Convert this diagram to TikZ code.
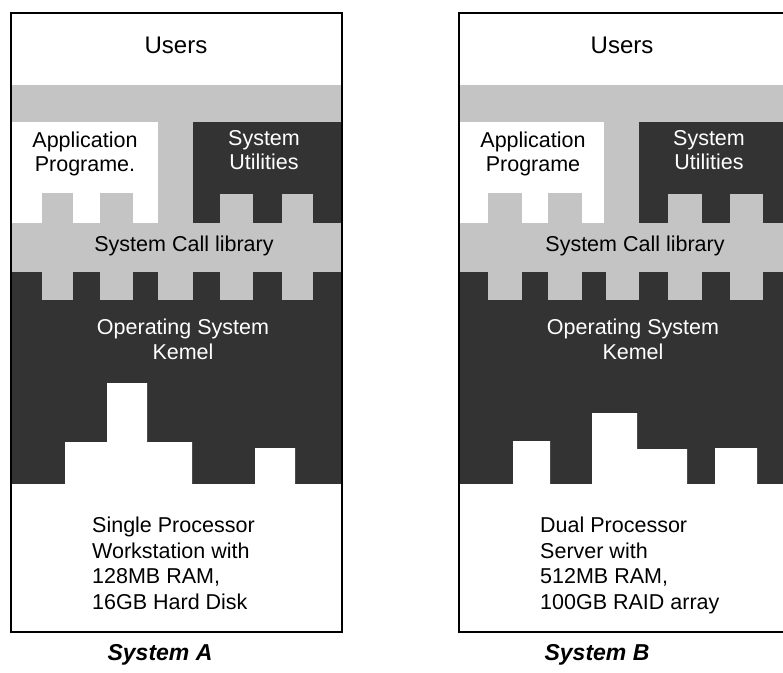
\documentclass[tikz,border=0pt]{standalone}
\usepackage{fontspec}
\setmainfont{Liberation Sans}
\usepackage{tikz}
\usetikzlibrary{positioning}
\definecolor{callgray}{HTML}{C4C4C4}
\definecolor{kerneldark}{HTML}{333333}

\begin{document}
\begin{tikzpicture}[x=1pt, y=-1pt,
  layertxt/.style={font=\fontsize{21.5}{24}\selectfont, inner sep=0pt, align=center},
  darktxt/.style={layertxt, text=white},
  hwtxt/.style={font=\fontsize{21.5}{25.5}\selectfont, inner sep=0pt, align=left, anchor=north west},
  titletxt/.style={font=\fontsize{23}{26}\selectfont\bfseries\itshape, inner sep=0pt},
  frame/.style={draw=black, line width=1.8pt}]
\useasboundingbox (0,0) rectangle (783,672);
\clip (0,0) rectangle (783,672);
\fill[white] (0,0) rectangle (783,672);

% --- System A (left) ---
\begin{scope}[shift={(11,0)}]
  % Call library band
  \fill[callgray] (0,85) rectangle (331,300);

  % Application box with legs
  \fill[white] (0,122) rectangle (147,223);
  \foreach \a/\b in {31/62, 89/122}
    \fill[callgray] (\a,193) rectangle (\b,224);

  % System utilities box with legs
  \fill[kerneldark] (182,122) rectangle (331,223);
  \foreach \a/\b in {209/242, 271/302}
    \fill[callgray] (\a,194) rectangle (\b,224);

  % Kernel with teeth from the call library
  \fill[kerneldark] (0,272) rectangle (331,500);
  \foreach \a/\b in {31/62, 89/122, 147/182, 209/242, 271/302}
    \fill[callgray] (\a,271) rectangle (\b,300);

  % Hardware
  \fill[white] (0,484) -- (54,484) -- (54,442) -- (96,442) -- (96,383) -- (136,383)
    -- (136,442) -- (181,442) -- (181,484) -- (244,484) -- (244,448) -- (284,448)
    -- (284,484) -- (331,484) -- (331,632) -- (0,632) -- cycle;

  \draw[frame] (0,13) rectangle (331,632);

  \node[layertxt, font=\fontsize{24}{26}\selectfont] (usersA) at (165,45) {Users};
  \node[layertxt] (appA) at (74,154) {Application\\Programe.};
  \node[darktxt] (utilA) at (253,150) {System\\Utilities};
  \node[layertxt] (callA) at (173,246) {System Call library};
  \node[darktxt, font=\fontsize{21.5}{25}\selectfont] (kernelA) at (172,339) {Operating System\\Kemel};
  \node[hwtxt] (hwA) at (81,517) {Single Processor\\Workstation with\\128MB RAM,\\16GB Hard Disk};
  \node[titletxt] (titleA) at (149,655) {System A};
\end{scope}

% --- System B (right) ---
\begin{scope}[shift={(459,0)}]
  % Call library band
  \fill[callgray] (0,85) rectangle (331,300);

  % Application box with legs
  \fill[white] (0,122) rectangle (145,223);
  \foreach \a/\b in {29/63, 89/123}
    \fill[callgray] (\a,193) rectangle (\b,224);

  % System utilities box with legs
  \fill[kerneldark] (180,122) rectangle (331,223);
  \foreach \a/\b in {209/243, 271/304}
    \fill[callgray] (\a,194) rectangle (\b,224);

  % Kernel with teeth from the call library
  \fill[kerneldark] (0,272) rectangle (331,500);
  \foreach \a/\b in {29/63, 89/123, 147/180, 209/243, 271/304}
    \fill[callgray] (\a,271) rectangle (\b,300);

  % Hardware
  \fill[white] (0,484) -- (54,484) -- (54,441) -- (91,441) -- (91,484) -- (133,484)
    -- (133,413) -- (178,413) -- (178,449) -- (228,449) -- (228,484) -- (256,484)
    -- (256,448) -- (298,448) -- (298,484) -- (331,484) -- (331,632) -- (0,632) -- cycle;

  \draw[frame] (0,13) rectangle (331,632);

  \node[layertxt, font=\fontsize{24}{26}\selectfont] (usersB) at (163,45) {Users};
  \node[layertxt] (appB) at (74,154) {Application\\Programe};
  \node[darktxt] (utilB) at (250,150) {System\\Utilities};
  \node[layertxt] (callB) at (176,246) {System Call library};
  \node[darktxt, font=\fontsize{21.5}{25}\selectfont] (kernelB) at (174,339) {Operating System\\Kemel};
  \node[hwtxt] (hwB) at (81,517) {Dual Processor\\Server with\\512MB RAM,\\100GB RAID array};
  \node[titletxt] (titleB) at (138,655) {System B};
\end{scope}
\end{tikzpicture}
\end{document}
